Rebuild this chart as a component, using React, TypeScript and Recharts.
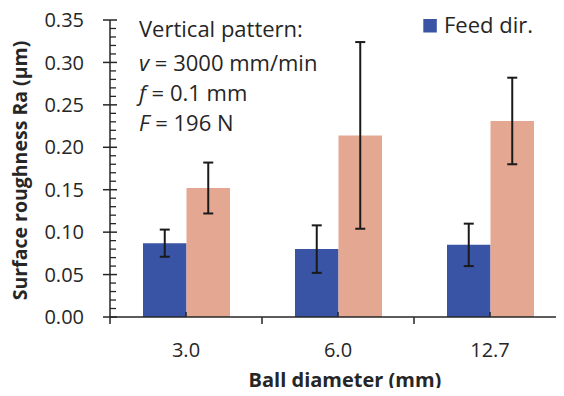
import { BarChart, Bar, XAxis, YAxis, ErrorBar, Legend } from 'recharts';

const categories = ['3.0', '6.0', '12.7'];
const feedRa = [0.087, 0.080, 0.085];
const feedErr = [0.016, 0.028, 0.025];
const crossRa = [0.152, 0.214, 0.231];
const crossErr = [0.030, 0.110, 0.051];
const yMajorTicks = [0, 0.05, 0.1, 0.15, 0.2, 0.25, 0.3, 0.35];
const notes = [
  ['', 'Vertical pattern:'],
  ['v', ' = 3000 mm/min'],
  ['f', ' = 0.1 mm'],
  ['F', ' = 196 N'],
];

const data = categories.map((cat, i) => ({
  cat,
  feed: feedRa[i],
  feedErr: feedErr[i],
  cross: crossRa[i],
  crossErr: crossErr[i],
}));

// 0.01 steps between the labelled ticks
const yTicks = Array.from({ length: 36 }, (_, i) => i / 100);

const W = 570;
const H = 396;
const MARGIN = { top: 20, right: 4, bottom: 0, left: 0 };
const Y_W = 110;
const X_H = 79;
const AXIS_X = MARGIN.left + Y_W;
const AXIS_Y = H - MARGIN.bottom - X_H;
const BAND = (W - MARGIN.right - AXIS_X) / categories.length;

const INK = '#262626';
const BLUE = '#3953a5';
const SALMON = '#e4a792';
const FONT = '"Open Sans", sans-serif';

function YTick(props: any) {
  const { y, payload } = props;
  const v = payload.value;
  const major = yMajorTicks.some((t) => Math.abs(t - v) < 1e-6);
  if (!major) {
    return <line x1={AXIS_X} x2={AXIS_X + 6} y1={y} y2={y} stroke={INK} strokeWidth={1.3} />;
  }
  return (
    <g>
      <line x1={AXIS_X - 7} x2={AXIS_X + 7} y1={y} y2={y} stroke={INK} strokeWidth={1.5} />
      <text x={AXIS_X - 26} y={y} dy="0.36em" textAnchor="end" fontSize={20} fill={INK} fontFamily={FONT}>
        {v.toFixed(2)}
      </text>
    </g>
  );
}

function XTick(props: any) {
  const { x, index, payload } = props;
  const last = index === categories.length - 1;
  return (
    <g>
      <line x1={x} x2={x} y1={AXIS_Y} y2={AXIS_Y - 5} stroke={INK} strokeWidth={1.5} />
      <line x1={x - BAND / 2} x2={x - BAND / 2} y1={AXIS_Y} y2={AXIS_Y + 7} stroke={INK} strokeWidth={1.5} />
      {last && <line x1={x + BAND / 2} x2={x + BAND / 2} y1={AXIS_Y} y2={AXIS_Y + 7} stroke={INK} strokeWidth={1.5} />}
      <text x={x} y={AXIS_Y + 40} textAnchor="middle" fontSize={20} fill={INK} fontFamily={FONT}>
        {payload.value}
      </text>
    </g>
  );
}

function YTitle(props: any) {
  const vb = props.viewBox;
  const cy = vb.y + vb.height / 2 + 2;
  return (
    <text
      x={27}
      y={cy}
      transform={`rotate(-90, 27, ${cy})`}
      textAnchor="middle"
      fontSize={19.5}
      fontWeight="bold"
      fill={INK}
      fontFamily={FONT}
    >
      Surface roughness Ra (µm)
    </text>
  );
}

function XTitle() {
  return (
    <text x={345} y={387} textAnchor="middle" fontSize={20} fontWeight="bold" fill={INK} fontFamily={FONT}>
      Ball diameter (mm)
    </text>
  );
}

function LegendBox() {
  return (
    <svg width={140} height={40} style={{ display: 'block' }}>
      <rect x={3.3} y={19} width={13.5} height={13.5} fill={BLUE} />
      <text x={24} y={33.3} fontSize={22} fill={INK} fontFamily={FONT}>
        Feed dir.
      </text>
    </svg>
  );
}

export default function App() {
  return (
    <div style={{ position: 'relative', margin: -8, width: 564, height: 396, overflow: 'hidden', background: '#fff' }}>
      <BarChart width={W} height={H} data={data} margin={MARGIN} barGap={0}>
        <XAxis
          dataKey="cat"
          height={X_H}
          interval={0}
          tickLine={false}
          tickSize={0}
          tickMargin={0}
          axisLine={{ stroke: INK, strokeWidth: 1.5 }}
          tick={XTick}
          label={{ content: XTitle }}
        />
        <YAxis
          width={Y_W}
          domain={[0, 0.35]}
          ticks={yTicks}
          interval={0}
          tickLine={false}
          tickSize={7}
          tickMargin={19}
          axisLine={{ stroke: INK, strokeWidth: 1.5 }}
          tick={YTick}
          label={{ content: YTitle }}
        />
        <Legend
          layout="vertical"
          align="center"
          verticalAlign="middle"
          content={LegendBox}
          wrapperStyle={{ top: 0, left: 420, width: 140, height: 40 }}
        />
        <Bar dataKey="feed" name="Feed dir." fill={BLUE} barSize={43.5} isAnimationActive={false}>
          <ErrorBar dataKey="feedErr" width={5} strokeWidth={2} stroke="#1a1a1a" direction="y" />
        </Bar>
        <Bar dataKey="cross" name="Cross-feed dir." legendType="none" fill={SALMON} barSize={43.5} isAnimationActive={false}>
          <ErrorBar dataKey="crossErr" width={5} strokeWidth={2} stroke="#1a1a1a" direction="y" />
        </Bar>
      </BarChart>
      <svg width={330} height={150} style={{ position: 'absolute', left: 0, top: 0, pointerEvents: 'none' }}>
        {notes.map(([it, rest], i) => (
          <text key={i} x={139} y={[37.3, 70.7, 101, 130.7][i]} fontSize={22} fill={INK} fontFamily={FONT}>
            {it && <tspan fontStyle="italic">{it}</tspan>}
            {rest}
          </text>
        ))}
      </svg>
    </div>
  );
}
